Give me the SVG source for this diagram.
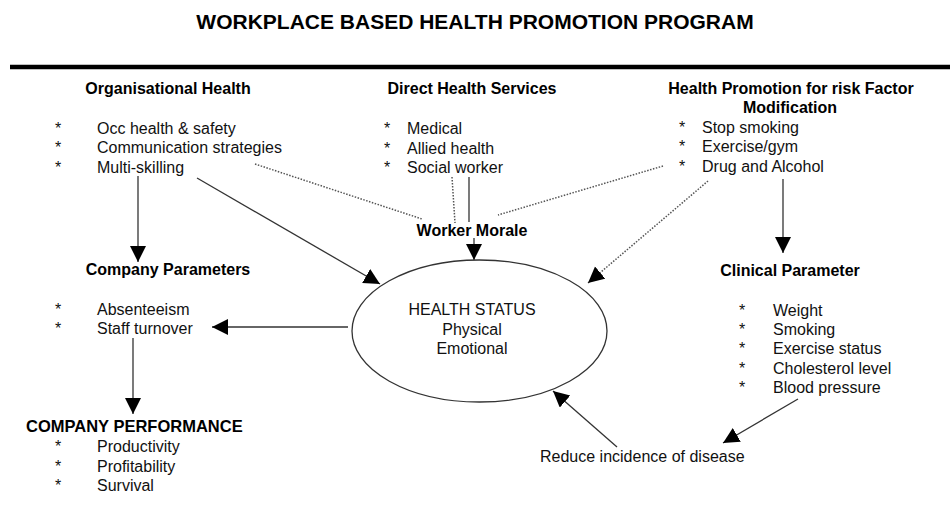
<svg xmlns="http://www.w3.org/2000/svg" width="950" height="505" viewBox="0 0 950 505">
<style>
text{font-family:"Liberation Sans",Arial,sans-serif;font-size:16px;fill:#111}
.b{font-weight:bold;fill:#000}
.t{font-weight:bold;font-size:21px;fill:#000}
.c{text-anchor:middle}
.ln{stroke:#333;stroke-width:1.3;fill:none}
.dt{stroke:#555;stroke-width:1.5;fill:none;stroke-dasharray:1.5 1.5}
</style>
<defs>
<marker id="ah" markerUnits="userSpaceOnUse" markerWidth="17" markerHeight="17" refX="16" refY="8" orient="auto" viewBox="0 0 17 17">
<path d="M0,0 L16,8 L0,16 z" fill="#000"/>
</marker>
</defs>
<rect width="950" height="505" fill="#fff"/>
<text class="t c" x="475" y="29">WORKPLACE BASED HEALTH PROMOTION PROGRAM</text>
<line x1="10" y1="67" x2="950" y2="67" stroke="#000" stroke-width="4.5"/>

<g id="connectors">
<line class="ln" x1="138" y1="176" x2="138" y2="262" marker-end="url(#ah)"/>
<line class="ln" x1="197" y1="178" x2="380" y2="284" marker-end="url(#ah)"/>
<line class="dt" x1="255" y1="164" x2="422" y2="219"/>
<line class="dt" x1="452" y1="177" x2="455" y2="223"/>
<line class="ln" x1="469" y1="177" x2="469" y2="222"/>
<line class="dt" x1="663" y1="166" x2="498" y2="215"/>
<line class="ln" x1="474" y1="238" x2="474" y2="260" marker-end="url(#ah)"/>
<line class="dt" x1="708" y1="181" x2="588" y2="283" marker-end="url(#ah)"/>
<line class="ln" x1="783" y1="179" x2="783" y2="253" marker-end="url(#ah)"/>
<line class="ln" x1="348" y1="327" x2="212" y2="327" marker-end="url(#ah)"/>
<line class="ln" x1="133" y1="338" x2="133" y2="414" marker-end="url(#ah)"/>
<line class="ln" x1="798" y1="399" x2="723" y2="443" marker-end="url(#ah)"/>
<line class="ln" x1="617" y1="447" x2="553" y2="391" marker-end="url(#ah)"/>
</g>

<g id="org-health">
<text class="b c" x="168" y="94">Organisational Health</text>
<text x="55" y="134">*</text><text x="97" y="134">Occ health &amp; safety</text>
<text x="55" y="153">*</text><text x="97" y="153">Communication strategies</text>
<text x="55" y="173">*</text><text x="97" y="173">Multi-skilling</text>
</g>

<g id="direct-health">
<text class="b c" x="472" y="94">Direct Health Services</text>
<text x="384" y="134">*</text><text x="407" y="134">Medical</text>
<text x="384" y="154">*</text><text x="407" y="154">Allied health</text>
<text x="384" y="173">*</text><text x="407" y="173">Social worker</text>
</g>

<g id="health-promotion">
<text class="b c" x="791" y="94">Health Promotion for risk Factor</text>
<text class="b c" x="790" y="113">Modification</text>
<text x="679" y="133">*</text><text x="702" y="133">Stop smoking</text>
<text x="679" y="152">*</text><text x="702" y="152">Exercise/gym</text>
<text x="679" y="172">*</text><text x="702" y="172">Drug and Alcohol</text>
</g>

<g id="worker-morale">
<text class="b c" x="472" y="236">Worker Morale</text>
</g>

<g id="health-status">
<ellipse cx="479.5" cy="331" rx="127.5" ry="71" fill="#fff" stroke="#333" stroke-width="1.3"/>
<text class="c" x="472" y="315">HEALTH STATUS</text>
<text class="c" x="472" y="335">Physical</text>
<text class="c" x="472" y="354">Emotional</text>
</g>

<g id="company-parameters">
<text class="b c" x="168" y="275">Company Parameters</text>
<text x="55" y="315">*</text><text x="97" y="315">Absenteeism</text>
<text x="55" y="334">*</text><text x="97" y="334">Staff turnover</text>
</g>

<g id="company-performance">
<text class="b" x="26" y="432" style="font-size:16.5px">COMPANY PERFORMANCE</text>
<text x="55" y="452">*</text><text x="97" y="452">Productivity</text>
<text x="55" y="472">*</text><text x="97" y="472">Profitability</text>
<text x="55" y="491">*</text><text x="97" y="491">Survival</text>
</g>

<g id="clinical-parameter">
<text class="b c" x="790" y="276">Clinical Parameter</text>
<text x="739" y="316">*</text><text x="773" y="316">Weight</text>
<text x="739" y="335">*</text><text x="773" y="335">Smoking</text>
<text x="739" y="354">*</text><text x="773" y="354">Exercise status</text>
<text x="739" y="374">*</text><text x="773" y="374">Cholesterol level</text>
<text x="739" y="393">*</text><text x="773" y="393">Blood pressure</text>
</g>

<g id="reduce-incidence">
<text x="540" y="462">Reduce incidence of disease</text>
</g>
</svg>
